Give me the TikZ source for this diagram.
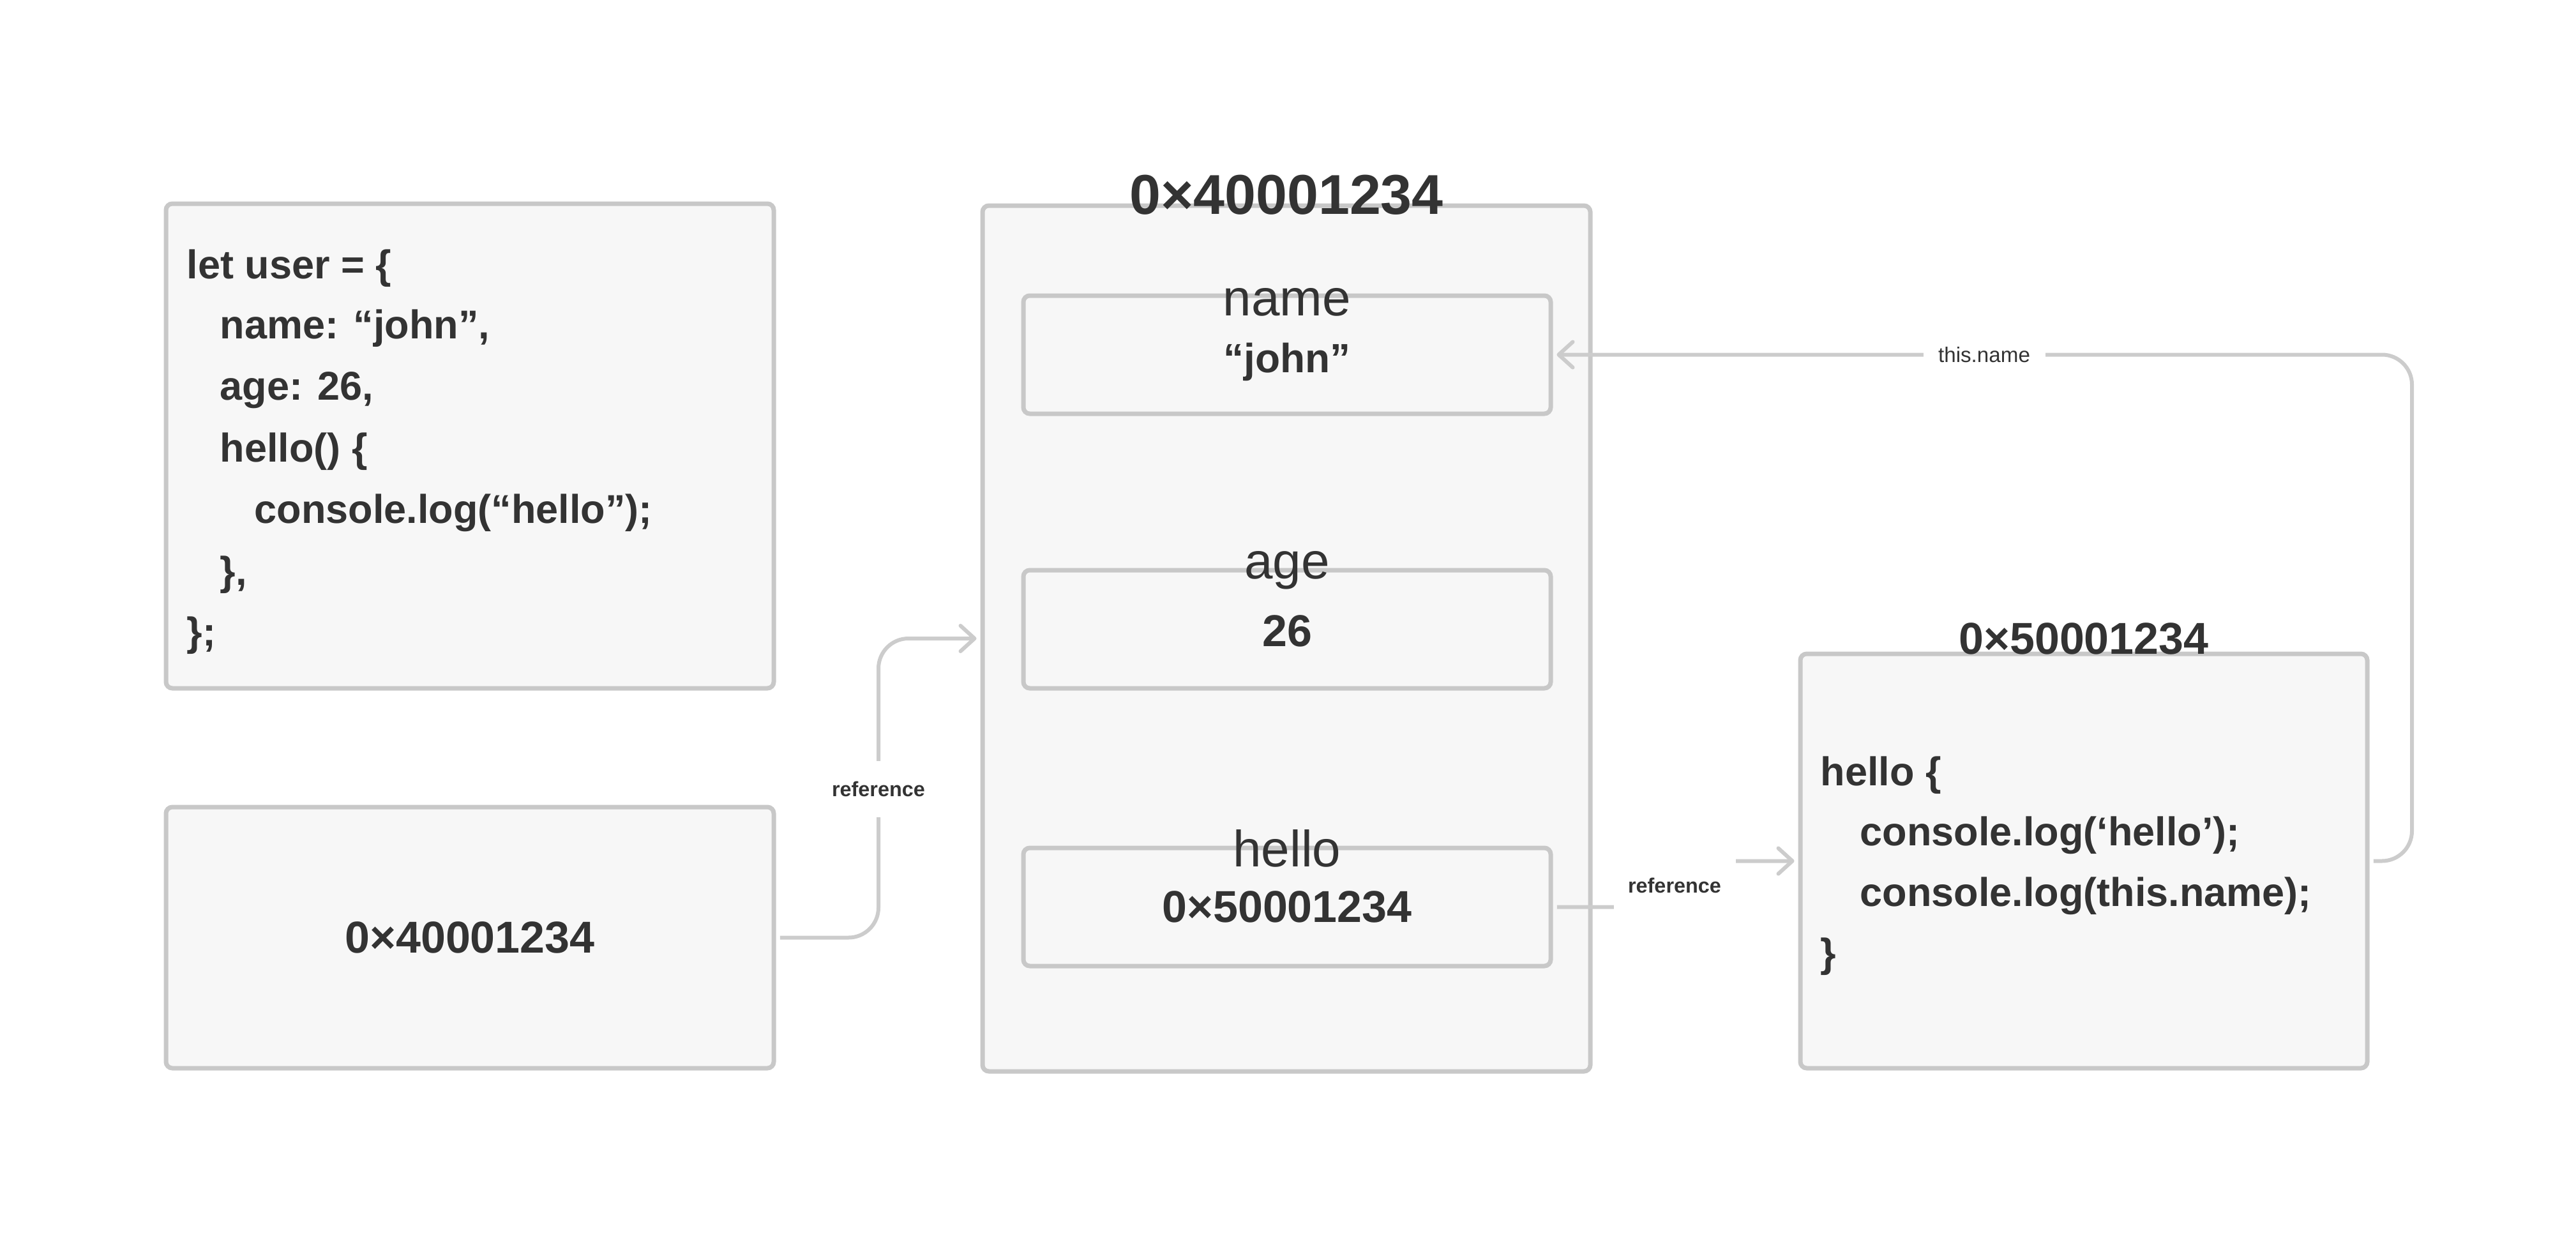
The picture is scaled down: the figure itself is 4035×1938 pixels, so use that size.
\documentclass[tikz,border=0pt]{standalone}
\usepackage{fontspec}
\setmainfont{Liberation Sans}
\usetikzlibrary{arrows.meta}
\definecolor{txt}{HTML}{333333}
\definecolor{bord}{HTML}{C8C8C8}
\definecolor{connc}{HTML}{CCCCCC}
\definecolor{boxf}{HTML}{F7F7F7}
\begin{document}
\begin{tikzpicture}[x=0.25pt,y=-0.25pt,
  membox/.style={draw=bord, fill=boxf, line width=1.75pt, rounded corners=2.5pt, inner sep=0pt},
  conn/.style={draw=connc, line width=1.5pt, rounded corners=11.75pt,
    -{Straight Barb[length=5.5pt,width=10pt,round]}, shorten >=1.5pt, shorten <=1.6pt},
  codeline/.style={anchor=base west, inner sep=0pt, text=txt, font=\fontsize{15.75pt}{19pt}\selectfont\bfseries},
  valtext/.style={anchor=base, inner sep=0pt, text=txt, font=\fontsize{17.5pt}{21pt}\selectfont\bfseries},
  fld/.style={anchor=base, inner sep=0pt, text=txt, font=\fontsize{20pt}{24pt}\selectfont},
  lbl/.style={fill=white, inner sep=0pt, minimum width=47.75pt, minimum height=22pt, text=txt}
]
\useasboundingbox[fill=white] (0,0) rectangle (4035,1938);

% boxes
\node[membox, minimum width=238pt, minimum height=189.75pt] (codebox) at (736,698.5) {};
\node[membox, minimum width=238pt, minimum height=102.25pt] (addrbox) at (736,1468.5) {};
\node[membox, minimum width=238pt, minimum height=339pt] (objbox) at (2015,1000) {};
\node[membox, minimum width=206.5pt, minimum height=46.25pt] (namebox) at (2016,555.5) {};
\node[membox, minimum width=206.5pt, minimum height=46.25pt] (agebox) at (2016,985.5) {};
\node[membox, minimum width=206.5pt, minimum height=46.25pt] (hellobox) at (2016,1420.5) {};
\node[membox, minimum width=222pt, minimum height=162.25pt] (fnbox) at (3264,1348.5) {};

% connectors
\coordinate (k1) at (1376,1000);
\coordinate (k2) at (2623,1348.5);
\coordinate (k3) at (3778,555.5);
\draw[conn] (addrbox.east) -| (k1) -- (objbox.west);
\draw[conn] (hellobox.east) -| (k2) -- (fnbox.west);
\draw[conn] (fnbox.east) -| (k3) -- (namebox.east);

% connector labels
\node[lbl, font=\fontsize{8.1pt}{10pt}\selectfont\bfseries] (ref1) at (1376,1236) {reference};
\node[lbl, font=\fontsize{8.1pt}{10pt}\selectfont\bfseries] (ref2) at (2623,1387) {reference};
\node[lbl, font=\fontsize{8.3pt}{10pt}\selectfont] (thisname) at (3108,556) {this.name};

% object texts
\node[valtext, font=\fontsize{22pt}{26pt}\selectfont\bfseries] (title1) at (2015,335) {0×40001234};
\node[fld] (namelbl) at (2016,494) {name};
\node[valtext, font=\fontsize{16pt}{20pt}\selectfont\bfseries] (nameval) at (2016,583) {“john”};
\node[fld] (agelbl) at (2016,906) {age};
\node[valtext] (ageval) at (2016,1012) {26};
\node[fld] (hellolbl) at (2016,1357) {hello};
\node[valtext] (helloval) at (2016,1444) {0×50001234};
\node[valtext] (title2) at (3264,1024) {0×50001234};
\node[valtext] (addrval) at (736,1492) {0×40001234};

% code box
\node[codeline] (c1) at (292,436) {let user = \{};
\node[codeline] (c2) at (344,530) {name: “john”,};
\node[codeline] (c3) at (344,626) {age: 26,};
\node[codeline] (c4) at (344,723) {hello() \{};
\node[codeline] (c5) at (398,819) {console.log(“hello”);};
\node[codeline] (c6) at (344,916) {\},};
\node[codeline] (c7) at (292,1011) {\};};

% function box
\node[codeline] (f1) at (2851,1230) {hello \{};
\node[codeline] (f2) at (2913,1324) {console.log(‘hello’);};
\node[codeline] (f3) at (2913,1419) {console.log(this.name);};
\node[codeline] (f4) at (2851,1514) {\}};
\end{tikzpicture}
\end{document}
